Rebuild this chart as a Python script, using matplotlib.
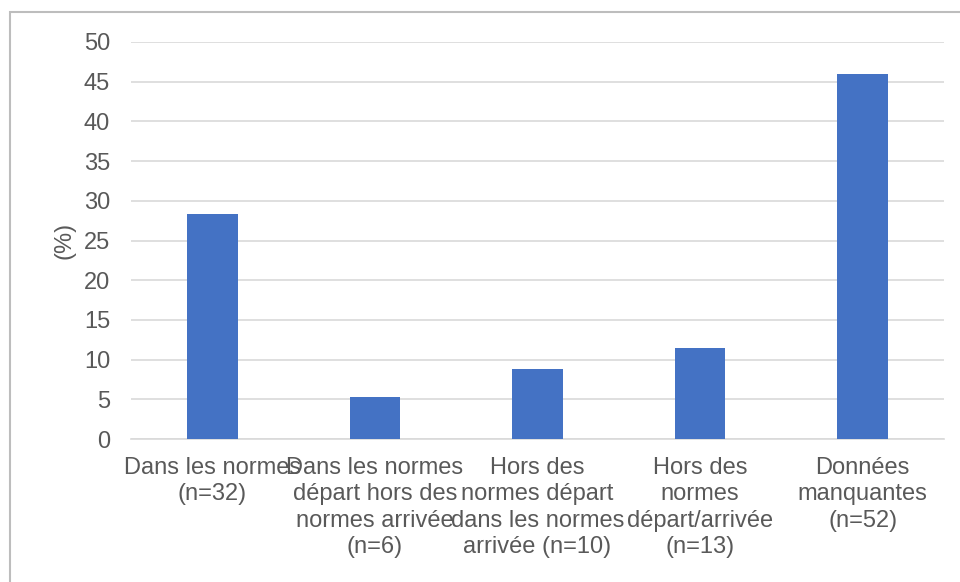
import matplotlib
matplotlib.use("Agg")
import matplotlib.pyplot as plt
from matplotlib.patches import Rectangle

categories = [
    "Dans les normes\n(n=32)",
    "Dans les normes\ndépart hors des\nnormes arrivée\n(n=6)",
    "Hors des\nnormes départ\ndans les normes\narrivée (n=10)",
    "Hors des\nnormes\ndépart/arrivée\n(n=13)",
    "Données\nmanquantes\n(n=52)",
]
values = [28.3, 5.3, 8.8, 11.5, 46.0]
yticks = [0, 5, 10, 15, 20, 25, 30, 35, 40, 45, 50]

plt.rcParams['font.family'] = ['Liberation Sans', 'DejaVu Sans']
text_color = '#595959'
fs = 17.0

fig = plt.figure(figsize=(9.6, 5.82), dpi=100)
ax = fig.add_axes([131/960, 1-439/582, (944-131)/960, (439-42)/582])

x = list(range(len(categories)))
ax.bar(x, values, width=0.31, color='#4472C4', zorder=3)
ax.set_xlim(-0.5, len(categories)-0.5)
ax.set_ylim(0, 50)
ax.set_yticks(yticks)
ax.set_yticklabels([str(t) for t in yticks])
ax.set_xticks(x)
ax.set_xticklabels(categories, multialignment='center', linespacing=1.25)
ax.grid(axis='y', color='#d9d9d9', linewidth=1.2, zorder=0)
for s in ['top', 'right', 'left']:
    ax.spines[s].set_visible(False)
ax.spines['bottom'].set_color('#d9d9d9')
ax.spines['bottom'].set_linewidth(1.2)
ax.tick_params(axis='both', length=0, labelsize=fs, labelcolor=text_color)
ax.tick_params(axis='y', pad=15)
ax.tick_params(axis='x', pad=13)
ax.set_ylabel('(%)', fontsize=fs, color=text_color, labelpad=6)

fig.patches.append(Rectangle((10/960, -0.1), 1.2, 1.1 - 12/582,
                             transform=fig.transFigure, fill=False,
                             edgecolor='#bdbdbd', linewidth=1.5, clip_on=False))

fig.savefig('out.png', dpi=100)
